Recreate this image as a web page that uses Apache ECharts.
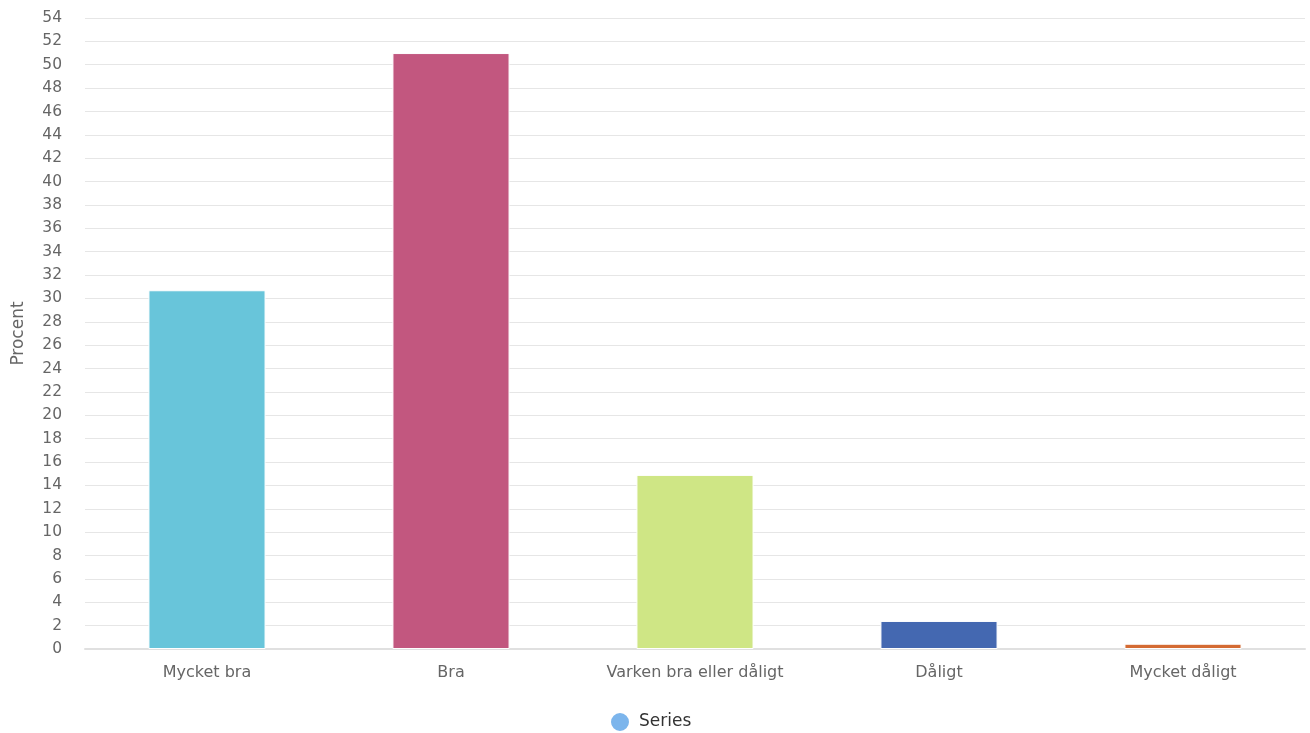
<!DOCTYPE html>
<html><head><meta charset="utf-8">
<script src="https://cdn.jsdelivr.net/npm/echarts@6/dist/echarts.min.js"></script>
<style>html,body{margin:0;padding:0;background:#fff}#c{width:1310px;height:733px}</style>
</head><body><div id="c"></div>
<script>
const categories = ["Mycket bra", "Bra", "Varken bra eller dåligt", "Dåligt", "Mycket dåligt"];
const values = [30.7, 51.0, 14.9, 2.4, 0.45];
const barColors = ["#68c5da", "#c2577f", "#cfe685", "#4468b1", "#d46b33"];
const seriesName = "Series";
const yAxisName = "Procent";

const chart = echarts.init(document.getElementById('c'));
chart.setOption({
  animation: false,
  textStyle: { fontFamily: "DejaVu Sans" },
  grid: { left: 85, right: 5, top: 18, bottom: 84, containLabel: false, outerBoundsMode: 'none' },
  legend: {
    top: 706, left: 604, icon: 'circle', itemWidth: 20, itemHeight: 20, itemGap: 8,
    textStyle: { fontSize: 17, color: '#333', fontFamily: "DejaVu Sans", padding: [0, 0, 0, 4] },
    data: [{ name: seriesName, itemStyle: { color: '#7cb5ec' } }]
  },
  xAxis: {
    type: 'category', data: categories,
    axisLine: { lineStyle: { color: '#e0e0e0', width: 2 } },
    axisTick: { show: false },
    axisLabel: { color: '#666', fontSize: 16, margin: 16 }
  },
  yAxis: {
    type: 'value', min: 0, max: 54, interval: 2,
    name: yAxisName, nameLocation: 'middle', nameGap: 58, nameRotate: 90,
    nameTextStyle: { color: '#666', fontSize: 17 },
    axisLabel: { color: '#666', fontSize: 15.5, margin: 23, align: 'right' },
    splitLine: { lineStyle: { color: '#e6e6e6', width: 1 } },
    axisLine: { show: false }, axisTick: { show: false }
  },
  series: [{
    name: seriesName, type: 'bar', barWidth: '48%',
    data: values.map((v, i) => ({ value: v, itemStyle: { color: barColors[i] } })),
    itemStyle: { borderColor: '#fff', borderWidth: 1 }
  }]
});
</script></body></html>
